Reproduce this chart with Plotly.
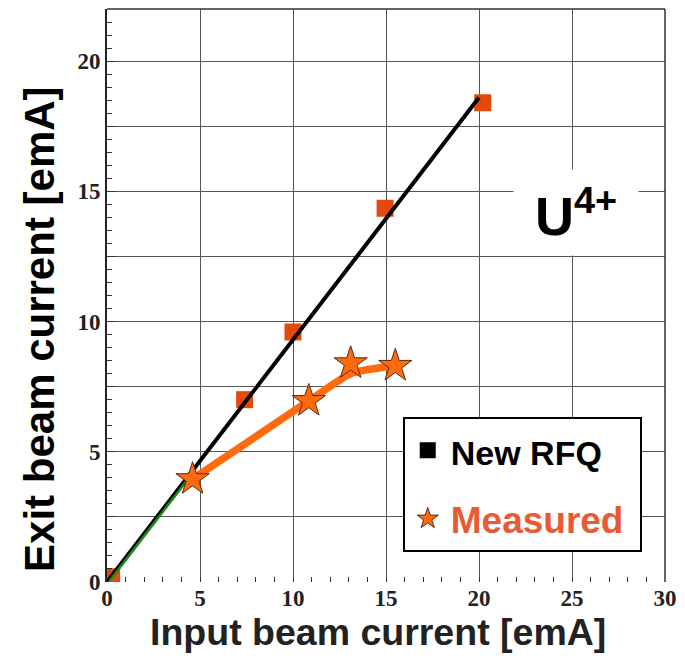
import plotly.graph_objects as go

# New RFQ simulation points
rfq_x = [0.25, 7.4, 10.0, 14.95, 20.2]
rfq_y = [0.2, 7.0, 9.6, 14.35, 18.4]
# New RFQ line
rfq_line_x = [0.0, 20.0]
rfq_line_y = [0.0, 18.6]
# green initial segment
green_x = [0.1, 4.3]
green_y = [0.0, 3.9]
# Measured points
meas_x = [4.6, 10.85, 13.1, 15.5]
meas_y = [3.95, 6.95, 8.4, 8.3]
# Measured trend curve
meas_line_x = [4.6, 10.85, 13.1, 15.5]
meas_line_y = [3.95, 6.95, 8.0, 8.3]

x_ticks = [0, 5, 10, 15, 20, 25, 30]
y_ticks = [0, 2.5, 5, 7.5, 10, 12.5, 15, 17.5, 20]
y_labels = ["0", "", "5", "", "10", "", "15", "", "20"]

SQ = "#e4480c"
OR = "#ff6a0e"

fig = go.Figure()
fig.add_trace(go.Scatter(x=rfq_x, y=rfq_y, mode="markers", showlegend=False,
                         marker=dict(symbol="square", size=17, color=SQ)))
fig.add_trace(go.Scatter(x=rfq_line_x, y=rfq_line_y, mode="lines", showlegend=False,
                         line=dict(color="black", width=4)))
fig.add_trace(go.Scatter(x=green_x, y=green_y, mode="lines", showlegend=False,
                         line=dict(color="#1e8c1e", width=2.5)))
fig.add_trace(go.Scatter(x=meas_line_x, y=meas_line_y, mode="lines", showlegend=False,
                         line=dict(color=OR, width=7.5, shape="spline", smoothing=0.6)))
fig.add_trace(go.Scatter(x=meas_x, y=meas_y, mode="markers", showlegend=False,
                         marker=dict(symbol="star", size=25, color=OR,
                                     line=dict(color="#5a2a10", width=1))))
# legend-only entries
fig.add_trace(go.Scatter(x=[None], y=[None], mode="markers",
                         name='<span style="font-size:34px">New RFQ</span>',
                         legendgroup="a",
                         marker=dict(symbol="square", size=16, color="black")))
fig.add_trace(go.Scatter(x=[None], y=[None], mode="markers",
                         name='<span style="color:#e85a32;font-size:37px">Measured&#160;</span>',
                         legendgroup="b",
                         marker=dict(symbol="star", size=20, color=OR,
                                     line=dict(color="#5a2a10", width=1))))

fig.update_layout(
    width=677, height=651,
    margin=dict(l=99, r=20, t=1, b=77),
    plot_bgcolor="white", paper_bgcolor="white",
    font=dict(family="Liberation Sans, Arial, sans-serif", color="black"),
    legend=dict(x=0.53, y=0.288, xanchor="left", yanchor="top",
                bgcolor="white", bordercolor="black", borderwidth=2,
                font=dict(size=38, color="black", weight="bold"),
                traceorder="grouped", tracegroupgap=16, itemwidth=36),
    xaxis=dict(range=[0, 30], tickvals=x_ticks, ticks="inside", ticklen=5,
               tickcolor="#333", showgrid=True, gridcolor="#555", gridwidth=1,
               zeroline=False, showline=False, automargin=False,
               minor=dict(dtick=1, ticks="inside", ticklen=5, tickcolor="#333", showgrid=False),
               tickfont=dict(family="Liberation Serif, Times New Roman, serif", size=23,
                             color="#222", weight="bold")),
    yaxis=dict(range=[0, 22], tickvals=y_ticks, ticktext=y_labels, ticks="inside",
               ticklen=8, tickcolor="#333", showgrid=True, gridcolor="#555", gridwidth=1,
               zeroline=False, showline=True, linecolor="#222", linewidth=2,
               automargin=False,
               minor=dict(dtick=0.5, ticks="inside", ticklen=5, tickcolor="#333", showgrid=False),
               tickfont=dict(family="Liberation Serif, Times New Roman, serif", size=23,
                             color="#222", weight="bold")),
    shapes=[
        dict(type="line", xref="paper", yref="paper", x0=0, x1=1, y0=1, y1=1,
             line=dict(color="#333", width=1.5)),
        dict(type="line", xref="paper", yref="paper", x0=1, x1=1, y0=0, y1=1,
             line=dict(color="#333", width=1.5)),
    ],
    annotations=[
        dict(xref="paper", yref="paper", x=0.84, y=0.645, xanchor="center",
             yanchor="middle", showarrow=False,
             text="U<sup>4+</sup>", bgcolor="white", width=122, height=83,
             font=dict(size=54, color="black", weight="bold")),
        dict(xref="paper", yref="paper", x=0.486, y=-0.087, xanchor="center",
             yanchor="middle", showarrow=False, text="Input beam current [emA]",
             font=dict(size=37.5, color="#222", weight="bold")),
        dict(xref="paper", yref="paper", x=-0.12, y=0.44, xanchor="center",
             yanchor="middle", showarrow=False, textangle=-90,
             text="Exit beam current [emA]",
             font=dict(size=42, color="black", weight="bold")),
    ],
)

fig.write_html("out.html")
